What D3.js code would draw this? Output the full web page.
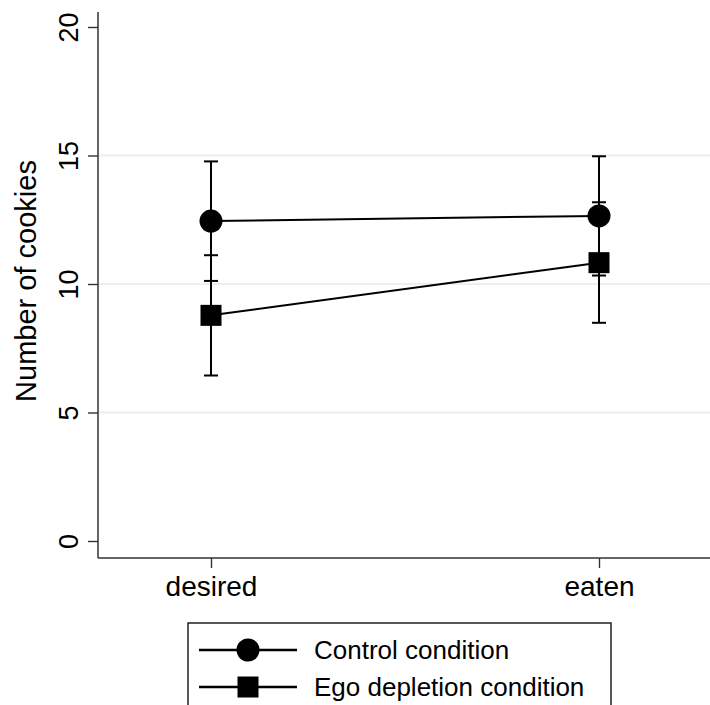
<!DOCTYPE html>
<html>
<head>
<meta charset="utf-8">
<script src="https://cdn.jsdelivr.net/npm/d3@7"></script>
<style>
  body { margin: 0; background: #fff; }
  text { font-family: "Liberation Sans", Arial, Helvetica, sans-serif; fill: #000; }
</style>
</head>
<body>
<div id="chart"></div>
<script>
// data
var categories = ["desired", "eaten"];
var seriesNames = ["Control condition", "Ego depletion condition"];
var controlMean = [12.45, 12.65];
var controlLow  = [10.12, 10.33];
var controlHigh = [14.77, 14.97];
var egoMean = [8.78, 10.83];
var egoLow  = [6.44, 8.49];
var egoHigh = [11.12, 13.18];
var yTicks = [0, 5, 10, 15, 20];
var gridTicks = [5, 10, 15];

var W = 710, H = 705;
var axisX = 98, axisBottom = 558, plotTop = 12, plotRight = 710;

var svg = d3.select("#chart").append("svg")
	.attr("width", W)
	.attr("height", H);

var y = d3.scaleLinear().domain([0, 20]).range([541, 27]);
var x = d3.scalePoint().domain(categories).range([211, 599]);

// grid lines
svg.selectAll("line.grid")
	.data(gridTicks)
	.enter().append("line")
	.attr("class", "grid")
	.attr("x1", axisX).attr("x2", plotRight)
	.attr("y1", function(d){ return y(d); })
	.attr("y2", function(d){ return y(d); })
	.attr("stroke", "#e8f0f2")
	.attr("stroke-width", 2);

// y axis
var yAxis = d3.axisLeft(y).tickValues(yTicks).tickSize(10).tickPadding(6);
var gy = svg.append("g").attr("transform", "translate(" + axisX + ",0)").call(yAxis);
gy.select(".domain").remove();
gy.selectAll(".tick line").attr("stroke", "#333").attr("stroke-width", 1.4);
gy.selectAll(".tick text")
	.attr("font-size", 27)
	.attr("font-family", "Liberation Sans, Arial, sans-serif")
	.attr("text-anchor", "middle")
	.attr("x", null).attr("dy", null)
	.attr("transform", "translate(-20,0) rotate(-90)");

// x axis
var xAxis = d3.axisBottom(x).tickSize(10).tickPadding(8);
var gx = svg.append("g").attr("transform", "translate(0," + axisBottom + ")").call(xAxis);
gx.select(".domain").remove();
gx.selectAll(".tick line").attr("stroke", "#333").attr("stroke-width", 1.4);
gx.selectAll(".tick text")
	.attr("font-size", 28)
	.attr("font-family", "Liberation Sans, Arial, sans-serif")
	.attr("y", 38).attr("dy", null);

// axis lines
svg.append("line").attr("x1", axisX).attr("x2", axisX).attr("y1", plotTop).attr("y2", axisBottom)
	.attr("stroke", "#333").attr("stroke-width", 1.5);
svg.append("line").attr("x1", axisX).attr("x2", plotRight).attr("y1", axisBottom).attr("y2", axisBottom)
	.attr("stroke", "#333").attr("stroke-width", 1.5);

// y title
svg.append("text")
	.attr("transform", "translate(36," + (y(10) - 3) + ") rotate(-90)")
	.attr("text-anchor", "middle")
	.attr("font-size", 29)
	.text("Number of cookies");

var series = [
	{ name: seriesNames[0], mean: controlMean, low: controlLow, high: controlHigh, shape: "circle" },
	{ name: seriesNames[1], mean: egoMean, low: egoLow, high: egoHigh, shape: "square" }
];

var line = d3.line()
	.x(function(d, i){ return x(categories[i]); })
	.y(function(d){ return y(d); });

series.forEach(function(s){
	// error bars
	categories.forEach(function(c, i){
		var cx = x(c);
		svg.append("line")
			.attr("x1", cx).attr("x2", cx)
			.attr("y1", y(s.low[i])).attr("y2", y(s.high[i]))
			.attr("stroke", "#000").attr("stroke-width", 2);
		[s.low[i], s.high[i]].forEach(function(v){
			svg.append("line")
				.attr("x1", cx - 7).attr("x2", cx + 7)
				.attr("y1", y(v)).attr("y2", y(v))
				.attr("stroke", "#000").attr("stroke-width", 2);
		});
	});
});

series.forEach(function(s){
	svg.append("path")
		.datum(s.mean)
		.attr("d", line)
		.attr("fill", "none")
		.attr("stroke", "#000")
		.attr("stroke-width", 2);

	s.mean.forEach(function(v, i){
		drawMarker(svg, s.shape, x(categories[i]), y(v));
	});
});

function drawMarker(g, shape, cx, cy)
{
	if(shape == "circle")
		g.append("circle").attr("cx", cx).attr("cy", cy).attr("r", 11.5).attr("fill", "#000");
	else
		g.append("rect").attr("x", cx - 10.5).attr("y", cy - 10.5).attr("width", 21).attr("height", 21).attr("fill", "#000");
}

// legend
var leg = svg.append("g");
leg.append("rect")
	.attr("x", 188).attr("y", 623)
	.attr("width", 423).attr("height", 100)
	.attr("fill", "#fff").attr("stroke", "#222").attr("stroke-width", 1.5);

series.forEach(function(s, i){
	var ly = 650 + i * 37;
	leg.append("line")
		.attr("x1", 199).attr("x2", 297)
		.attr("y1", ly).attr("y2", ly)
		.attr("stroke", "#000").attr("stroke-width", 2.5);
	drawMarker(leg, s.shape, 248, ly);
	leg.append("text")
		.attr("x", 314).attr("y", ly + 9)
		.attr("font-size", 26)
		.text(s.name);
});
</script>
</body>
</html>
